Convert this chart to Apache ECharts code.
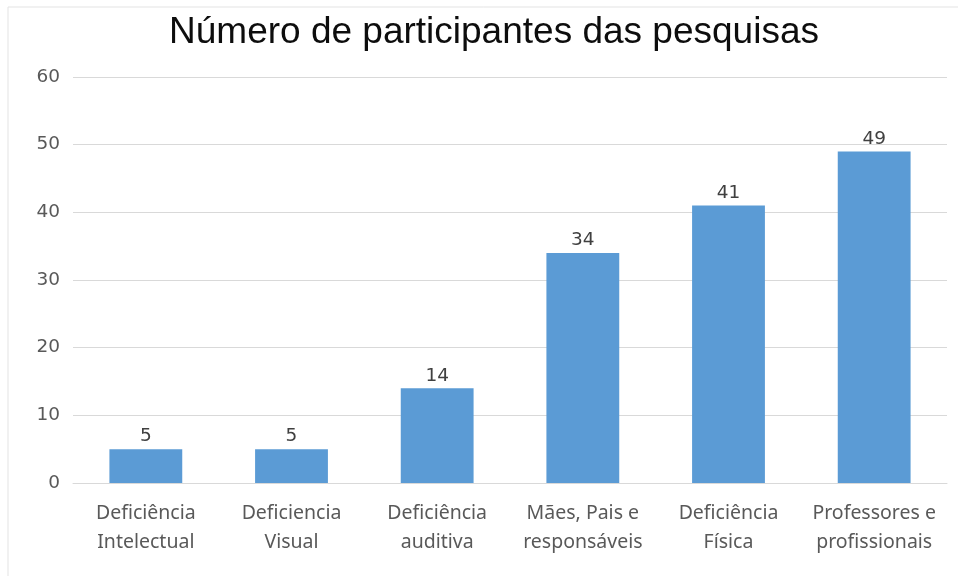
<!DOCTYPE html>
<html>
<head>
<meta charset="utf-8">
<script src="https://cdn.jsdelivr.net/npm/echarts@6/dist/echarts.min.js"></script>
<style>
  html, body { margin: 0; padding: 0; background: #fff; }
  #chart { width: 958px; height: 576px; }
</style>
</head>
<body>
<div id="chart"></div>
<script>
// dados do gráfico
const categorias = [
  "Deficiência\nIntelectual",
  "Deficiencia\nVisual",
  "Deficiência\nauditiva",
  "Mães, Pais e\nresponsáveis",
  "Deficiência\nFísica",
  "Professores e\nprofissionais"
];
const participantes = [5, 5, 14, 34, 41, 49];

const chart = echarts.init(document.getElementById("chart"));
chart.setOption({
  backgroundColor: "#fff",
  animation: false,
  // moldura cinza clara
  graphic: [{
    type: "rect",
    shape: { x: 8, y: 7, width: 980, height: 600 },
    style: { fill: "none", stroke: "#e3e3e3", lineWidth: 1 }
  }],
  title: {
    text: "Número de participantes das pesquisas",
    top: 9,
    left: 489,
    textAlign: "center",
    textStyle: {
      fontFamily: "Liberation Sans",
      fontSize: 37,
      fontWeight: "normal",
      color: "#0d0d0d"
    }
  },
  grid: { left: 73, right: 11, top: 77, bottom: 93 },
  xAxis: {
    type: "category",
    data: categorias,
    axisLine: { lineStyle: { color: "#d9d9d9", width: 1 } },
    axisTick: { show: false },
    axisLabel: {
      color: "#595959",
      fontFamily: "Noto Sans",
      fontSize: 19.5,
      lineHeight: 29,
      margin: 16,
      interval: 0
    }
  },
  yAxis: {
    type: "value",
    min: 0,
    max: 60,
    interval: 10,
    axisLine: { show: false },
    axisTick: { show: false },
    splitLine: { lineStyle: { color: "#d9d9d9", width: 1 } },
    axisLabel: {
      color: "#595959",
      fontFamily: "DejaVu Sans",
      fontSize: 18.5,
      margin: 13
    }
  },
  series: [{
    type: "bar",
    data: participantes,
    barWidth: "50%",
    itemStyle: { color: "#5b9bd5" },
    label: {
      show: true,
      position: "top",
      distance: 3,
      color: "#404040",
      fontFamily: "DejaVu Sans",
      fontSize: 18.5
    }
  }]
});
</script>
</body>
</html>
